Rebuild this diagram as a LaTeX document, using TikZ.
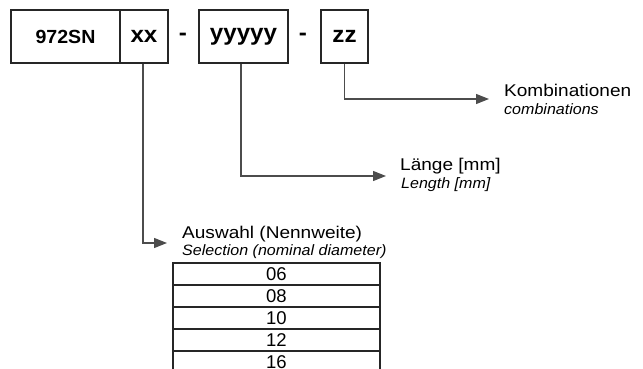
\documentclass[tikz,border=0pt]{standalone}
\usepackage{fontspec}
\setmainfont{Liberation Sans}
\newfontfamily\widefont[FakeStretch=1.12]{Liberation Sans}
\newfontfamily\subfont[FakeStretch=1.07]{Liberation Sans}
\newfontfamily\codefont[FakeStretch=1.03]{Liberation Sans}
\newfontfamily\boldwide[FakeStretch=1.05]{Liberation Sans}
\usetikzlibrary{arrows.meta}
\begin{document}
\begin{tikzpicture}[x=1pt,y=-1pt,
  codebox/.style={draw=black!85,line width=1.2pt,inner sep=0pt,minimum height=53pt},
  codetext/.style={font=\boldwide\fontsize{23}{25}\selectfont\bfseries},
  rowbox/.style={draw=black!85,line width=1.5pt,inner sep=0pt,minimum width=207pt,minimum height=22pt,font=\fontsize{18.5}{20}\selectfont},
  mainlabel/.style={anchor=base west,inner sep=0pt,font=\widefont\fontsize{17}{19}\selectfont},
  sublabel/.style={anchor=base west,inner sep=0pt,font=\subfont\itshape\fontsize{15}{17}\selectfont},
  connector/.style={draw=black!70,line width=1.2pt,-{Triangle[length=13pt,width=10pt]}}
]
\useasboundingbox (0,0) rectangle (643,369);
% code boxes
\node[codebox,minimum width=109pt] (b972) at (65.5,36.5) {\codefont\fontsize{19}{21}\selectfont\bfseries 972SN};
\node[codebox,codetext,minimum width=48pt] (bxx) at (144,36.5) {xx};
\node[codetext] (d1) at (183,37) {-};
\node[codebox,codetext,minimum width=89pt] (byy) at (243.5,36.5) {yyyyy};
\node[codetext] (d2) at (303,37) {-};
\node[codebox,codetext,minimum width=47pt] (bzz) at (344.5,36.5) {zz};
% labels
\node[mainlabel] (kombi) at (504,96) {Kombinationen};
\node[sublabel] (kombiEn) at (504,114) {combinations};
\node[mainlabel] (laenge) at (400,170) {Länge [mm]};
\node[sublabel] (laengeEn) at (401,188) {Length [mm]};
\node[mainlabel] (auswahl) at (182,238) {Auswahl (Nennweite)};
\node[sublabel] (auswahlEn) at (182,255) {Selection (nominal diameter)};
% arrow targets
\coordinate (kt) at (489,99);
\coordinate (lt) at (386,176);
\coordinate (at) at (167,243);
% connectors
\draw[connector] (bzz.south) |- (kt);
\draw[connector] (byy.south -| 241,0) |- (lt);
\draw[connector] (bxx.south -| 143,0) |- (at);
% table
\node[rowbox] (r1) at (276.5,274) {06};
\node[rowbox] (r2) at (276.5,296) {08};
\node[rowbox] (r3) at (276.5,318) {10};
\node[rowbox] (r4) at (276.5,340) {12};
\node[rowbox] (r5) at (276.5,362) {16};
\end{tikzpicture}
\end{document}
